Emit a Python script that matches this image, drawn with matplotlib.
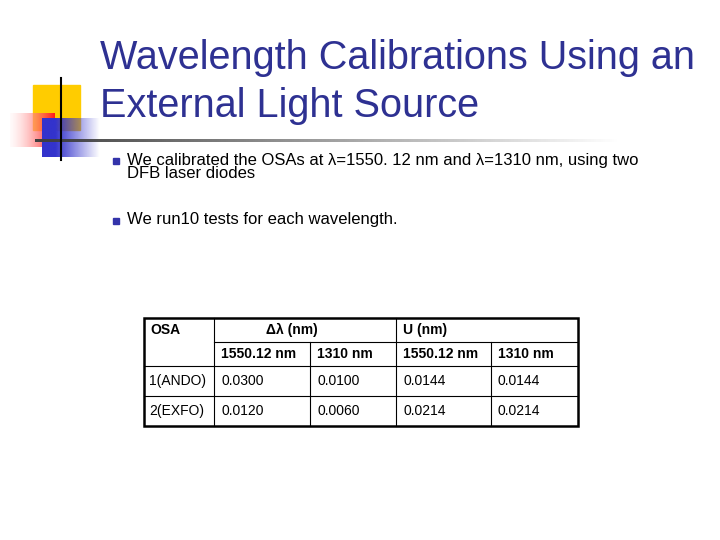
import matplotlib
matplotlib.use("Agg")
import matplotlib.pyplot as plt
import numpy as np

title_lines = ["Wavelength Calibrations Using an", "External Light Source"]
bullets = ["We calibrated the OSAs at λ=1550. 12 nm and λ=1310 nm, using two\nDFB laser diodes",
           "We run10 tests for each wavelength."]
header_top = ["OSA", "Δλ (nm)", "U (nm)"]
header_sub = ["1550.12 nm", "1310 nm", "1550.12 nm", "1310 nm"]
row_labels = ["1(ANDO)", "2(EXFO)"]
values = [["0.0300", "0.0100", "0.0144", "0.0144"],
          ["0.0120", "0.0060", "0.0214", "0.0214"]]

fig = plt.figure(figsize=(7.2, 5.4), dpi=100)
ax = fig.add_axes([0, 0, 1, 1])
ax.set_xlim(0, 720); ax.set_ylim(540, 0); ax.axis("off")
fam = ["Liberation Sans", "DejaVu Sans"]
navy = "#2E3192"

# logo
ax.add_patch(plt.Rectangle((33, 85), 47, 45, color="#FFCC00", zorder=1))
red = np.ones((10, 100, 4))
red[..., 0] = 1
red[..., 1] = np.linspace(0.95, 0.1, 100); red[..., 2] = np.linspace(0.95, 0.1, 100)
red[..., 3] = np.linspace(0.3, 1, 100)
ax.imshow(red, extent=(10, 55, 147, 113), zorder=2, aspect="auto")
blue = np.ones((10, 100, 4)); blue[..., 0] = 0.2; blue[..., 1] = 0.2; blue[..., 2] = 0.8
blue[..., 3] = np.clip(np.linspace(1.3, 0, 100), 0, 1)
ax.imshow(blue, extent=(42, 100, 157, 118), zorder=3, aspect="auto")
ax.plot([61, 61], [78, 160], color="black", lw=1.5, zorder=5)
ln = np.ones((1, 300, 4)); ln[..., :3] = 0.25; ln[..., 3] = np.clip(np.linspace(1, 0, 300), 0, 1)
ax.imshow(ln, extent=(35, 620, 142, 139), zorder=4, aspect="auto")
ax.set_xlim(0, 720); ax.set_ylim(540, 0)

ax.text(100, 58, title_lines[0], fontsize=28.5, color=navy, family=fam, va="center")
ax.text(100, 106, title_lines[1], fontsize=28.5, color=navy, family=fam, va="center")

for yb, yt, t in zip([158, 218], [153, 212], bullets):
    ax.add_patch(plt.Rectangle((113, yb), 6, 6, color="#3333AA"))
    ax.text(127, yt, t, fontsize=12, family=fam, va="top", linespacing=0.85)

# table
L, R, T, B = 144, 578, 318, 426
cols = [144, 214, 310, 396, 491, 578]
rows = [318, 342, 366, 396, 426]
k = dict(color="black", lw=0.8)
ax.add_patch(plt.Rectangle((L, T), R - L, B - T, fill=False, ec="black", lw=1.8))
ax.plot([214, 578], [342, 342], **k)
for y in rows[2:4]:
    ax.plot([L, R], [y, y], **k)
ax.plot([214, 214], [T, B], **k); ax.plot([396, 396], [T, B], **k)
for x in (310, 491):
    ax.plot([x, x], [342, B], **k)
fs = 10
ax.text(150, 330, header_top[0], fontsize=fs, weight="bold", family=fam, va="center")
ax.text(292, 330, header_top[1], fontsize=fs, weight="bold", family=fam, va="center", ha="center")
ax.text(403, 330, header_top[2], fontsize=fs, weight="bold", family=fam, va="center")
for i, t in enumerate(header_sub):
    ax.text(cols[i + 1] + 7, 354, t, fontsize=fs, weight="bold", family=fam, va="center")
for r in range(2):
    yc = (rows[r + 2] + rows[r + 3]) / 2
    ax.text(149, yc, row_labels[r], fontsize=fs, family=fam, va="center")
    for c in range(4):
        ax.text(cols[c + 1] + 7, yc, values[r][c], fontsize=fs, family=fam, va="center")

fig.savefig("out.png", dpi=100)
